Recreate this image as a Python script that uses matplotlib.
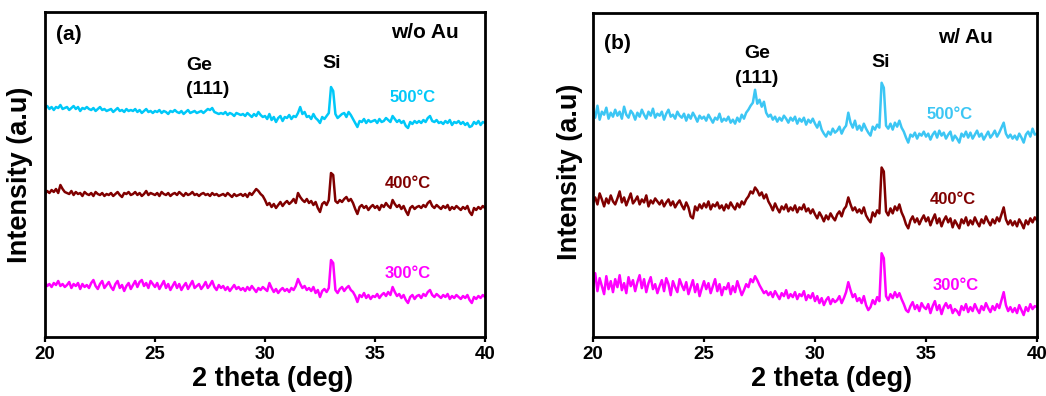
import numpy as np
import matplotlib
matplotlib.use("Agg")
import matplotlib.pyplot as plt

plt.rcParams['font.family'] = ['Liberation Sans', 'DejaVu Sans']
plt.rcParams['font.weight'] = 'bold'

# 2-theta grid (deg), 0.1 deg step
two_theta = np.round(np.arange(20.0, 40.0001, 0.1), 2)

# ---- Panel (a): w/o Au (intensity, a.u.) ----
a_500 = [39,41,38,40,37,40,39,42,38,39, 40,37,39,41,38,40,36,39,38,40,
         38,37,39,36,38,40,37,38,36,37, 38,35,37,39,36,37,35,38,36,37,
         36,38,35,37,34,36,38,35,36,34, 36,35,37,34,36,35,33,36,35,37,
         35,34,36,33,35,37,34,35,36,34, 35,36,34,36,38,37,39,35,34,33,
         34,33,35,32,34,33,31,34,33,32, 33,31,34,32,30,33,31,35,32,30,
         31,28,33,27,30,25,29,31,26,30, 29,32,28,31,30,34,40,33,35,30,
         31,28,33,29,27,24,30,28,31,34, 60,56,33,29,31,33,34,30,35,32,
         28,24,20,26,25,28,24,27,25,26, 27,24,28,25,26,29,27,25,31,28,
         25,27,24,26,21,19,25,23,26,24, 26,24,27,25,29,31,26,25,27,24,
         25,23,26,24,27,22,25,24,26,23, 25,22,24,20,21,25,23,26,22,25, 24]
a_400 = [33,36,34,37,35,38,34,42,38,35, 34,33,36,32,35,33,34,31,35,33,
         32,34,31,35,33,32,34,31,33,32, 34,31,33,35,32,30,34,33,35,32,
         33,35,32,34,31,33,36,32,34,33, 32,34,31,35,33,32,34,31,33,34,
         32,35,33,31,34,32,33,35,32,33, 31,33,34,32,33,31,34,32,33,31,
         32,33,31,34,32,30,33,31,32,33, 31,33,30,34,32,35,38,36,33,31,
         27,22,24,20,23,19,22,25,21,24, 26,23,25,28,24,34,30,27,25,28,
         24,26,22,25,19,15,23,25,22,27, 54,52,26,24,27,25,28,30,26,28,
         24,18,13,20,22,19,21,17,20,22, 19,21,17,22,20,24,21,19,27,23,
         20,22,18,21,16,12,19,21,18,20, 21,19,22,20,24,26,21,19,22,20,
         18,21,19,22,17,20,18,21,19,17, 20,18,21,15,12,19,17,20,18,21, 19]
a_300 = [35,31,33,30,34,32,36,31,33,30, 32,35,29,33,31,34,28,33,30,32,
         29,34,37,31,28,33,36,29,32,35, 30,27,33,36,29,32,26,31,34,28,
         32,36,30,35,37,31,34,29,36,33, 30,34,28,32,36,29,33,27,31,35,
         29,33,27,31,34,28,32,36,29,31, 33,28,31,35,29,32,36,30,27,32,
         29,31,27,30,26,29,32,28,30,27, 29,26,30,27,31,28,25,29,27,30,
         28,26,34,29,25,28,24,27,29,26, 28,25,29,27,31,38,33,29,31,27,
         29,26,30,24,27,20,26,28,25,29, 57,54,27,24,28,30,26,29,31,27,
         25,21,15,22,20,24,19,22,18,21, 20,23,19,22,24,21,25,22,30,25,
         21,23,19,22,17,14,20,22,18,21, 22,19,23,21,25,27,22,20,23,21,
         19,22,20,23,18,21,19,22,20,18, 21,19,22,17,14,20,18,21,19,22, 20]

# ---- Panel (b): w/ Au (intensity, a.u.) ----
b_500 = [37,30,42,28,36,33,40,29,35,31, 38,32,36,29,41,33,30,37,34,28,
         35,31,38,33,29,36,32,39,30,34, 32,36,28,34,38,31,33,29,36,32,
         30,34,27,33,29,35,31,26,32,29, 31,27,33,29,25,30,28,34,26,29,
         27,31,25,28,24,30,26,33,29,35, 38,42,45,58,44,48,41,46,35,31,
         33,28,31,26,30,27,32,29,25,30, 27,31,24,29,26,30,23,28,25,29,
         24,20,26,18,14,11,16,13,19,15, 17,21,14,19,22,35,25,20,27,18,
         22,17,24,19,15,12,21,18,23,20, 65,60,22,19,24,18,25,21,27,20,
         16,10,5,13,11,15,9,14,12,16, 11,14,8,13,16,10,17,12,15,9,
         13,16,7,12,9,5,14,11,16,10, 15,9,13,17,11,14,8,12,16,10,
         13,17,11,15,20,25,14,10,13,9, 12,8,14,10,5,13,16,11,19,13, 14]
b_400 = [35,40,33,44,38,31,39,34,42,36, 33,39,46,35,40,32,38,44,34,37,
         41,33,38,35,42,31,37,34,39,36, 33,37,31,35,38,32,36,30,34,37,
         32,28,35,30,21,19,31,27,33,29, 34,30,36,28,33,31,35,29,32,27,
         33,29,35,31,28,34,30,36,33,38, 41,46,44,50,47,42,45,39,43,36,
         32,27,34,29,25,31,28,33,26,30, 27,32,25,30,28,33,26,29,24,28,
         23,19,25,21,16,22,18,24,20,17, 23,26,21,28,31,40,33,27,30,25,
         28,24,30,22,18,15,25,21,27,24, 70,66,26,22,29,24,31,27,33,25,
         20,13,9,17,21,15,19,13,18,22, 16,20,12,18,23,14,19,11,17,21,
         15,19,10,17,13,9,18,14,20,12, 17,13,20,15,11,18,14,21,16,12,
         18,14,20,16,23,30,18,13,17,12, 16,11,18,14,9,17,13,19,15,20, 17]
b_300 = [37,49,31,44,36,28,46,33,41,30, 43,35,47,32,39,29,45,36,42,31,
         40,47,34,43,30,39,45,33,38,29, 36,42,31,44,38,27,41,35,30,43,
         37,32,40,28,35,42,30,38,26,34, 41,33,39,29,36,43,31,38,27,35,
         33,39,28,36,30,41,34,27,32,38, 35,43,40,46,42,37,33,29,31,27,
         30,25,31,27,23,29,26,32,24,28, 25,30,23,28,26,31,22,27,24,29,
         21,26,19,24,17,22,25,18,23,20, 22,26,19,24,30,40,32,25,28,21,
         24,19,26,17,12,15,22,18,25,21, 69,64,26,22,28,24,30,25,29,23,
         18,12,10,16,20,13,17,11,19,15, 13,18,9,16,21,12,17,8,15,19,
         14,17,9,13,11,7,16,12,18,10, 15,11,18,13,9,16,12,19,14,10,
         16,12,18,14,22,30,17,11,15,10, 14,9,17,12,7,15,11,18,13,16, 15]

temps = ['500\u00b0C', '400\u00b0C', '300\u00b0C']
colors_a = ['#00C8F8', '#800000', '#FF00FF']
colors_b = ['#3CC6F4', '#800000', '#FF00FF']
offsets_a = [190, 110, 20]
offsets_b = [190, 100, 15]

W, H = 1046, 396
fig = plt.figure(figsize=(W / 100, H / 100), dpi=100)
fig.patch.set_facecolor('white')

ax_a = fig.add_axes([45 / W, (H - 337) / H, 440 / W, 325 / H])
ax_b = fig.add_axes([593 / W, (H - 337) / H, 444 / W, 324 / H])


def style(ax, xlab_x, ylab_x, ylab_y):
    ax.set_xlim(20, 40)
    ax.set_ylim(0, 325)
    ax.set_yticks([])
    ax.set_xticks([20, 25, 30, 35, 40])
    ax.tick_params(axis='x', direction='out', length=3.5, width=1.6,
                   labelsize=13.5, pad=3)
    for lab in ax.get_xticklabels():
        lab.set_fontweight('bold')
    for sp in ax.spines.values():
        sp.set_linewidth(2.0)
    ax.set_xlabel('2 theta (deg)', fontsize=19.5, fontweight='bold')
    ax.set_ylabel('Intensity (a.u)', fontsize=19.5, fontweight='bold')
    ax.xaxis.set_label_coords(xlab_x, -0.09)
    ax.yaxis.set_label_coords(ylab_x, ylab_y)


series_a = [a_500, a_400, a_300]
series_b = [b_500, b_400, b_300]

for s, off, c in zip(series_a, offsets_a, colors_a):
    ax_a.plot(two_theta, np.array(s) + off, color=c, lw=1.8)
for s, off, c in zip(series_b, offsets_b, colors_b):
    ax_b.plot(two_theta, np.array(s) + off, color=c, lw=1.8)

style(ax_a, 0.518, -0.027, 0.498)
style(ax_b, 0.537, -0.0225, 0.509)

# annotations panel (a)
ax_a.text(21.1, 302, '(a)', fontsize=15, fontweight='bold', ha='center', va='center')
ax_a.text(37.27, 304, 'w/o Au', fontsize=15, fontweight='bold', ha='center', va='center')
ax_a.text(27.0, 272, 'Ge', fontsize=14, fontweight='bold', ha='center', va='center')
ax_a.text(27.4, 247, '(111)', fontsize=14, fontweight='bold', ha='center', va='center')
ax_a.text(33.05, 273, 'Si', fontsize=14, fontweight='bold', ha='center', va='center')
for t, c, xx, yy in zip(temps, colors_a, [36.7, 36.5, 36.5], [239, 154, 64]):
    ax_a.text(xx, yy, t, fontsize=12, fontweight='bold', color=c, ha='center', va='center')

# annotations panel (b)
ax_b.text(21.08, 294, '(b)', fontsize=15, fontweight='bold', ha='center', va='center')
ax_b.text(36.76, 300, 'w/ Au', fontsize=15, fontweight='bold', ha='center', va='center')
ax_b.text(27.39, 284, 'Ge', fontsize=14, fontweight='bold', ha='center', va='center')
ax_b.text(27.39, 259, '(111)', fontsize=14, fontweight='bold', ha='center', va='center')
ax_b.text(32.97, 275, 'Si', fontsize=14, fontweight='bold', ha='center', va='center')
for t, c, xx, yy in zip(temps, colors_b, [36.08, 36.2, 36.35], [223, 138, 52]):
    ax_b.text(xx, yy, t, fontsize=12, fontweight='bold', color=c, ha='center', va='center')

fig.savefig('out.png', dpi=100, facecolor='white')
